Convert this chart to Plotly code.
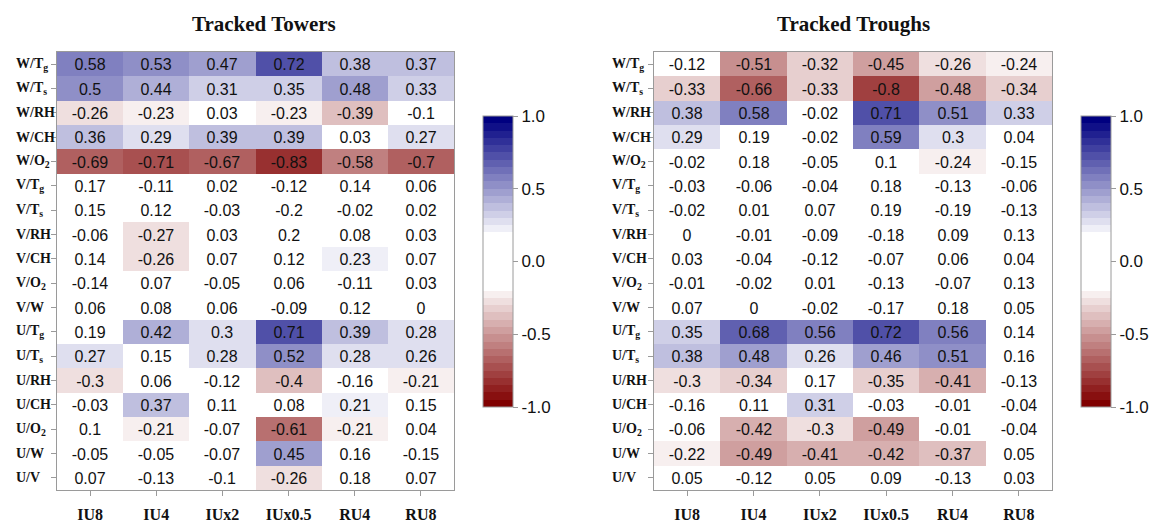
import plotly.graph_objects as go

W, H = 1158, 523

columns = ["IU8", "IU4", "IUx2", "IUx0.5", "RU4", "RU8"]
rows = ["W/Tg", "W/Ts", "W/RH", "W/CH", "W/O2",
        "V/Tg", "V/Ts", "V/RH", "V/CH", "V/O2", "V/W",
        "U/Tg", "U/Ts", "U/RH", "U/CH", "U/O2", "U/W", "U/V"]
row_labels = ["W/T<sub>g</sub>", "W/T<sub>s</sub>", "W/RH", "W/CH", "W/O<sub>2</sub>",
              "V/T<sub>g</sub>", "V/T<sub>s</sub>", "V/RH", "V/CH", "V/O<sub>2</sub>", "V/W",
              "U/T<sub>g</sub>", "U/T<sub>s</sub>", "U/RH", "U/CH", "U/O<sub>2</sub>", "U/W", "U/V"]

towers = [
    [0.58, 0.53, 0.47, 0.72, 0.38, 0.37],
    [0.5, 0.44, 0.31, 0.35, 0.48, 0.33],
    [-0.26, -0.23, 0.03, -0.23, -0.39, -0.1],
    [0.36, 0.29, 0.39, 0.39, 0.03, 0.27],
    [-0.69, -0.71, -0.67, -0.83, -0.58, -0.7],
    [0.17, -0.11, 0.02, -0.12, 0.14, 0.06],
    [0.15, 0.12, -0.03, -0.2, -0.02, 0.02],
    [-0.06, -0.27, 0.03, 0.2, 0.08, 0.03],
    [0.14, -0.26, 0.07, 0.12, 0.23, 0.07],
    [-0.14, 0.07, -0.05, 0.06, -0.11, 0.03],
    [0.06, 0.08, 0.06, -0.09, 0.12, 0],
    [0.19, 0.42, 0.3, 0.71, 0.39, 0.28],
    [0.27, 0.15, 0.28, 0.52, 0.28, 0.26],
    [-0.3, 0.06, -0.12, -0.4, -0.16, -0.21],
    [-0.03, 0.37, 0.11, 0.08, 0.21, 0.15],
    [0.1, -0.21, -0.07, -0.61, -0.21, 0.04],
    [-0.05, -0.05, -0.07, 0.45, 0.16, -0.15],
    [0.07, -0.13, -0.1, -0.26, 0.18, 0.07],
]

troughs = [
    [-0.12, -0.51, -0.32, -0.45, -0.26, -0.24],
    [-0.33, -0.66, -0.33, -0.8, -0.48, -0.34],
    [0.38, 0.58, -0.02, 0.71, 0.51, 0.33],
    [0.29, 0.19, -0.02, 0.59, 0.3, 0.04],
    [-0.02, 0.18, -0.05, 0.1, -0.24, -0.15],
    [-0.03, -0.06, -0.04, 0.18, -0.13, -0.06],
    [-0.02, 0.01, 0.07, 0.19, -0.19, -0.13],
    [0, -0.01, -0.09, -0.18, 0.09, 0.13],
    [0.03, -0.04, -0.12, -0.07, 0.06, 0.04],
    [-0.01, -0.02, 0.01, -0.13, -0.07, 0.13],
    [0.07, 0, -0.02, -0.17, 0.18, 0.05],
    [0.35, 0.68, 0.56, 0.72, 0.56, 0.14],
    [0.38, 0.48, 0.26, 0.46, 0.51, 0.16],
    [-0.3, -0.34, 0.17, -0.35, -0.41, -0.13],
    [-0.16, 0.11, 0.31, -0.03, -0.01, -0.04],
    [-0.06, -0.42, -0.3, -0.49, -0.01, -0.04],
    [-0.22, -0.49, -0.41, -0.42, -0.37, 0.05],
    [0.05, -0.12, 0.05, 0.09, -0.13, 0.03],
]

titles = ["Tracked Towers", "Tracked Troughs"]
cbar_ticks = [-1, -0.5, 0, 0.5, 1]
cbar_ticktext = ["-1.0", "-0.5", "0.0", "0.5", "1.0"]


def stepped_scale():
    navy = (0, 0, 128)
    dred = (128, 0, 0)
    n = 40
    scale = []
    for i in range(n):
        lo = -1 + 2 * i / n
        hi = -1 + 2 * (i + 1) / n
        mid = (lo + hi) / 2
        if abs(mid) < 0.2:
            c = (255, 255, 255)
        else:
            k = round((abs(mid) - 0.2) / 0.05 + 0.5)
            t = k / 16
            base = navy if mid > 0 else dred
            c = tuple(round(255 * (1 - t) + b * t) for b in base)
        col = "rgb(%d,%d,%d)" % c
        scale.append([(lo + 1) / 2, col])
        scale.append([(hi + 1) / 2, col])
    scale[0][0] = 0.0
    scale[-1][0] = 1.0
    return scale


def mask(m):
    return [[v if abs(v) > 0.2 + 1e-9 else 0 for v in r] for r in m]


def fmt(m):
    return [["%g" % v for v in r] for r in m]


scale = stepped_scale()

# pixel layout
panels = [
    dict(x0=57, x1=454, cb_x=483, lab_x=14, title_x=264),
    dict(x0=654, x1=1052, cb_x=1081, lab_x=610, title_x=853),
]
y_top, y_bot = 52, 490
cb_top, cb_bot = 116, 407

fig = go.Figure()
grey = "#9a9a9a"
annotations = []

for i, (data, p) in enumerate(zip([towers, troughs], panels)):
    ax = "" if i == 0 else str(i + 1)
    fig.add_trace(go.Heatmap(
        x=columns, y=rows, z=mask(data), text=fmt(data),
        texttemplate="%{text}",
        textfont=dict(family="Liberation Sans, Arial", size=16, color="#111111"),
        zmin=-1, zmax=1, colorscale=scale,
        xaxis="x" + ax, yaxis="y" + ax,
        hoverinfo="skip",
        colorbar=dict(
            x=p["cb_x"] / W, xanchor="left", xref="paper", xpad=0, ypad=0,
            y=1 - (cb_top + cb_bot) / 2 / H, yanchor="middle", yref="paper",
            len=cb_bot - cb_top, lenmode="pixels",
            thickness=30, thicknessmode="pixels",
            outlinewidth=1, outlinecolor=grey,
            tickvals=cbar_ticks, ticktext=cbar_ticktext,
            ticks="outside", ticklen=5, tickcolor=grey,
            tickfont=dict(family="Liberation Sans, Arial", size=17, color="#111111"),
        ),
    ))
    axis_common = dict(showgrid=False, zeroline=False, showline=True, mirror=True,
                       linecolor=grey, linewidth=1, ticks="outside", ticklen=5,
                       tickcolor=grey, automargin=False)
    fig.update_layout(**{
        "xaxis" + ax: dict(domain=[p["x0"] / W, p["x1"] / W], anchor="y" + ax,
                           tickfont=dict(family="Liberation Serif, Times New Roman",
                                         size=16, color="#111111", weight="bold"),
                           ticklabelstandoff=5, **axis_common),
        "yaxis" + ax: dict(domain=[1 - y_bot / H, 1 - y_top / H], anchor="x" + ax,
                           autorange="reversed", showticklabels=False, **axis_common),
    })
    for r, lab in zip(rows, row_labels):
        annotations.append(dict(
            x=p["lab_x"] / W, xref="paper", xanchor="left",
            y=r, yref="y" + ax, yanchor="middle", showarrow=False,
            text="<b>" + lab + "</b>",
            font=dict(family="Liberation Serif, Times New Roman", size=14, color="#111111"),
        ))
    annotations.append(dict(
        x=p["title_x"] / W, xref="paper", xanchor="center",
        y=1 - 24 / H, yref="paper", yanchor="middle", showarrow=False,
        text="<b>" + titles[i] + "</b>",
        font=dict(family="Liberation Serif, Times New Roman", size=21, color="#111111"),
    ))

fig.update_layout(
    width=W, height=H, template="none",
    margin=dict(l=0, r=0, t=0, b=0),
    paper_bgcolor="white", plot_bgcolor="white",
    annotations=annotations, showlegend=False,
)

fig.write_html("out.html")
